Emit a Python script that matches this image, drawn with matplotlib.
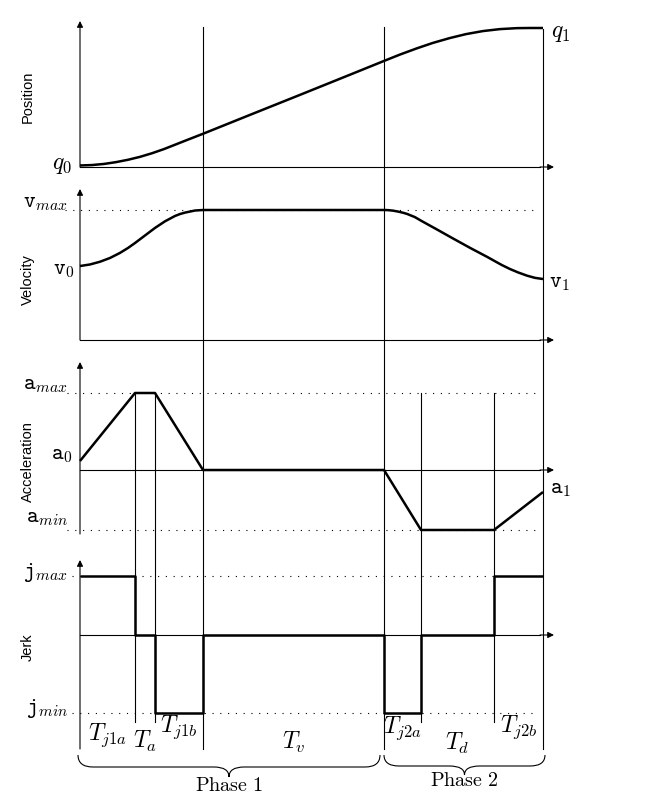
import matplotlib
matplotlib.use("Agg")
import matplotlib.pyplot as plt
from matplotlib.path import Path
from matplotlib.patches import PathPatch

plt.rcParams['mathtext.fontset'] = 'cm'

# phase boundaries (time units)
t_bounds = [0.0, 0.55, 0.75, 1.23, 3.04, 3.41, 4.14, 4.63]
interval_labels = [r'$T_{j1a}$', r'$T_a$', r'$T_{j1b}$', r'$T_v$', r'$T_{j2a}$', r'$T_d$', r'$T_{j2b}$']

# position
t_pos = [0.0, 0.12, 0.24, 0.36, 0.48, 0.60, 0.72, 0.84, 0.96, 1.08, 1.23, 1.70, 2.20, 2.70,
         3.04, 3.20, 3.37, 3.53, 3.70, 3.86, 4.03, 4.20, 4.37, 4.50, 4.63]
q_pos = [0.011, 0.014, 0.022, 0.035, 0.052, 0.073, 0.099, 0.129, 0.163, 0.197, 0.239, 0.375,
         0.519, 0.664, 0.763, 0.809, 0.854, 0.893, 0.928, 0.956, 0.978, 0.992, 0.999, 1.0, 1.0]
q0, q1 = 0.011, 1.0

# velocity
t_vel = [0.0, 0.10, 0.20, 0.30, 0.40, 0.48, 0.55, 0.65, 0.75, 0.85, 0.95, 1.00, 1.05, 1.15,
         1.23, 3.04, 3.08, 3.13, 3.18, 3.23, 3.27, 3.35, 3.41, 3.57, 3.73, 3.90, 4.07, 4.14,
         4.22, 4.30, 4.38, 4.47, 4.55, 4.63]
v_vel = [0.569, 0.581, 0.602, 0.631, 0.670, 0.708, 0.746, 0.804, 0.862, 0.913, 0.954, 0.969,
         0.980, 0.996, 1.0, 1.0, 0.999, 0.995, 0.988, 0.979, 0.970, 0.945, 0.918, 0.850,
         0.781, 0.709, 0.640, 0.610, 0.576, 0.546, 0.520, 0.495, 0.478, 0.469]
v_max, v0, v1 = 1.0, 0.569, 0.469

# acceleration
a_acc = [0.117, 1.0, 1.0, 0.0, 0.0, -0.779, -0.779, -0.286]
a_max, a_min, a0, a1 = 1.0, -0.779, 0.117, -0.286

# jerk (piecewise constant)
j_jerk = [1.0, 0.0, -1.32, 0.0, -1.32, 0.0, 1.0, 1.0]
j_max, j_min = 1.0, -1.32

W, H = 646, 803
XLIM = (-0.8, 5.66)
LW = 1.8
THIN = 0.8
DOT = (0, (1, 6))

fig = plt.figure(figsize=(W / 100, H / 100), dpi=100)

# overlay in (time, pixel) coordinates for frame, guides and annotations
ov = fig.add_axes([0, 0, 1, 1])
ov.set_xlim(XLIM)
ov.set_ylim(H, 0)
ov.axis('off')
ov.patch.set_alpha(0)


def panel(zero_px, px_per_unit):
    ax = fig.add_axes([0, 0, 1, 1])
    ax.set_xlim(XLIM)
    ax.set_ylim((zero_px - H) / px_per_unit, zero_px / px_per_unit)
    ax.axis('off')
    ax.patch.set_alpha(0)
    return ax


def arrow(x0, y0, x1, y1):
    ov.annotate('', xy=(x1, y1), xytext=(x0, y0),
                arrowprops=dict(arrowstyle='-|>', lw=THIN, color='black',
                                mutation_scale=9, shrinkA=0, shrinkB=0))


def label(ax, s, x, y, dy, ha, size=16):
    ax.annotate(s, xy=(x, y), xytext=(0, dy), textcoords='offset points',
                ha=ha, va='center', fontsize=size)


def side_title(s, ypx):
    ov.text(-0.52, ypx, s, rotation=90, ha='center', va='center',
            fontsize=10.5, family='Liberation Sans')


# panel layout: zero line pixel, pixels per unit, arrow tip pixel, axis bottom pixel
layout = {
    'pos': (168, 139, 22, 168),
    'vel': (341, 130, 190, 341),
    'acc': (471, 77, 363, 535),
    'jerk': (636, 59, 561, 750),
}

for zero, _, top, bottom in layout.values():
    arrow(0, bottom, 0, top)
    ov.plot([0, 4.6], [zero, zero], color='black', lw=THIN)
    arrow(4.6, zero, 4.74, zero)

# long vertical boundary lines
for t in [t_bounds[3], t_bounds[4]]:
    ov.plot([t, t], [28, 750], color='black', lw=THIN)
ov.plot([t_bounds[7]] * 2, [30, 750], color='black', lw=THIN)
for t in [t_bounds[1], t_bounds[2], t_bounds[5], t_bounds[6]]:
    ov.plot([t, t], [394, 723], color='black', lw=THIN)

# Position
ax = panel(*layout['pos'][:2])
ax.plot(t_pos, q_pos, color='black', lw=LW, solid_capstyle='butt', solid_joinstyle='round')
label(ax, r'$q_0$', -0.08, q0, 1.5, 'right', 17)
label(ax, r'$q_1$', 4.71, q1, -2, 'left', 17)
side_title('Position', 97)

# Velocity
ax = panel(*layout['vel'][:2])
ax.hlines(v_max, -0.15, 4.55, color='black', lw=THIN, linestyles=[DOT])
ax.plot(t_vel, v_vel, color='black', lw=LW, solid_capstyle='butt', solid_joinstyle='round')
label(ax, r'$\mathtt{v}_{max}$', -0.12, v_max, 6, 'right')
label(ax, r'$\mathtt{v}_0$', -0.05, v0, -2, 'right')
label(ax, r'$\mathtt{v}_1$', 4.69, v1, -2, 'left')
side_title('Velocity', 280)

# Acceleration
ax = panel(*layout['acc'][:2])
ax.hlines(a_max, -0.13, 4.55, color='black', lw=THIN, linestyles=[DOT])
ax.hlines(a_min, -0.13, 4.57, color='black', lw=THIN, linestyles=[DOT])
ax.plot(t_bounds, a_acc, color='black', lw=LW, solid_capstyle='butt')
label(ax, r'$\mathtt{a}_{max}$', -0.12, a_max, 6.5, 'right')
label(ax, r'$\mathtt{a}_0$', -0.07, a0, 5, 'right')
label(ax, r'$\mathtt{a}_{min}$', -0.12, a_min, 9, 'right')
label(ax, r'$\mathtt{a}_1$', 4.70, a1, 3, 'left')
side_title('Acceleration', 462)

# Jerk
ax = panel(*layout['jerk'][:2])
ax.hlines(j_max, -0.08, t_bounds[6], color='black', lw=THIN, linestyles=[DOT])
ax.hlines(j_min, -0.08, 4.55, color='black', lw=THIN, linestyles=[DOT])
ax.plot(t_bounds, j_jerk, color='black', lw=LW, drawstyle='steps-post', solid_capstyle='butt')
label(ax, r'$\mathtt{j}_{max}$', -0.12, j_max, 3.5, 'right')
label(ax, r'$\mathtt{j}_{min}$', -0.12, j_min, 4, 'right')
side_title('Jerk', 647)

# interval names
label_y = [735, 741, 727, 742, 728, 743, 727]
for i, s in enumerate(interval_labels):
    xm = (t_bounds[i] + t_bounds[i + 1]) / 2
    ov.text(xm, label_y[i], s, ha='center', va='center', fontsize=17)


def brace(x0, x1, y0, y1, y2, r):
    xm = (x0 + x1) / 2
    verts = [(x0, y0), (x0, y1), (x0 + r, y1), (xm - r, y1), (xm, y1), (xm, y2),
             (xm, y1), (xm + r, y1), (x1 - r, y1), (x1, y1), (x1, y0)]
    codes = [Path.MOVETO, Path.CURVE3, Path.CURVE3, Path.LINETO, Path.CURVE3, Path.CURVE3,
             Path.CURVE3, Path.CURVE3, Path.LINETO, Path.CURVE3, Path.CURVE3]
    ov.add_patch(PathPatch(Path(verts, codes), fill=False, lw=THIN, edgecolor='black'))
    return xm


xm1 = brace(t_bounds[0] - 0.02, t_bounds[4] - 0.04, 756, 768, 778, 0.15)
xm2 = brace(t_bounds[4] + 0.0, t_bounds[7] + 0.02, 756, 767, 776, 0.15)
ov.text(xm1, 786, r'$\mathrm{Phase\ 1}$', ha='center', va='center', fontsize=14.5)
ov.text(xm2, 781, r'$\mathrm{Phase\ 2}$', ha='center', va='center', fontsize=14.5)

fig.savefig('out.png', dpi=100)
